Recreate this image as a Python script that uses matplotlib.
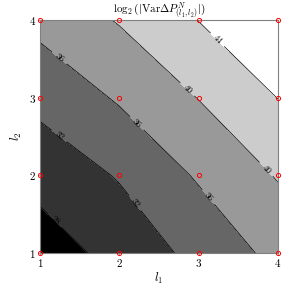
import matplotlib
matplotlib.use("Agg")
import matplotlib.pyplot as plt
import numpy as np

plt.rcParams["font.family"] = "cmr10"
plt.rcParams["mathtext.fontset"] = "cm"
plt.rcParams["axes.formatter.use_mathtext"] = True

# grid of levels
l1 = [1, 2, 3, 4]
l2 = [1, 2, 3, 4]

# log2 of |Var dP| on the (l1, l2) grid, one list per l2 row
row_l2_1 = [25.4, 29.7, 33.0, 37.2]
row_l2_2 = [29.7, 32.26, 36.45, 40.28]
row_l2_3 = [33.0, 36.45, 40.11, 44.07]
row_l2_4 = [37.2, 40.28, 44.07, 47.5]

levels = [24, 28, 32, 36, 40, 44, 48]

Z = np.array([row_l2_1, row_l2_2, row_l2_3, row_l2_4])
X, Y = np.meshgrid(l1, l2)

fig = plt.figure(figsize=(2.87, 2.87), dpi=100)
ax = fig.add_axes([0.139, 0.118, 0.830, 0.812])

# bands go from black (lowest) to white (highest)
ax.contourf(X, Y, Z, levels=levels, cmap="gray", vmin=26, vmax=46)
cs = ax.contour(X, Y, Z, levels=levels, colors="black", linewidths=0.5)

# label positions (data coords), nearest point on each line gets a label
label_pos = [(1.19, 1.42), (1.23, 2.49), (2.17, 1.62), (1.25, 3.52),
             (2.22, 2.67), (3.12, 1.72), (2.85, 3.1), (3.84, 2.07),
             (3.21, 3.72)]
ax.clabel(cs, fmt="%d", fontsize=6.5, manual=label_pos, inline=True)

# sample points
ax.plot(X.ravel(), Y.ravel(), "o", mfc="none", mec="red", ms=3,
        mew=0.7, clip_on=False, zorder=5)

ax.set_xlim(1, 4)
ax.set_ylim(1, 4)
ax.set_xticks(l1)
ax.set_yticks(l2)
ax.tick_params(labelsize=8, length=1.5, width=0.5, color="gray", pad=1.5)
for sp in ax.spines.values():
    sp.set_color("gray")
    sp.set_linewidth(0.8)

ax.set_xlabel("$l_1$", fontsize=9, labelpad=1)
ax.set_ylabel("$l_2$", fontsize=9, labelpad=3)
ax.set_title(r"$\log_2(|\mathrm{Var}\Delta P^N_{(l_1,l_2)}|)$", fontsize=8, pad=2)

fig.savefig("out.png", dpi=100)
